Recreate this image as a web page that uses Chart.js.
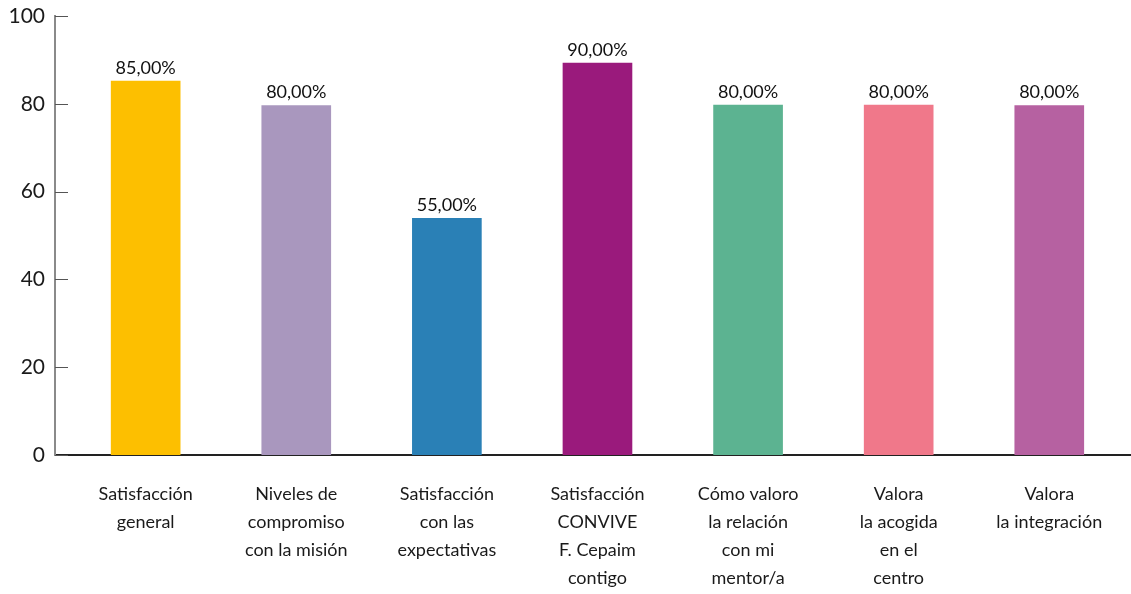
<!DOCTYPE html>
<html>
<head>
<meta charset="utf-8">
<script src="https://cdn.jsdelivr.net/npm/chart.js@4.4.1/dist/chart.umd.min.js"></script>
<style>
html,body{margin:0;padding:0;background:#fff;}
#wrap{width:1131px;height:594px;position:relative;}
</style>
</head>
<body>
<div id="wrap"><canvas id="c" width="1131" height="594"></canvas></div>
<script>
const categories = [
  ["Satisfacción", "general"],
  ["Niveles de", "compromiso", "con la misión"],
  ["Satisfacción", "con las", "expectativas"],
  ["Satisfacción", "CONVIVE", "F. Cepaim", "contigo"],
  ["Cómo valoro", "la relación", "con mi", "mentor/a"],
  ["Valora", "la acogida", "en el", "centro"],
  ["Valora", "la integración"]
];
const values = [85.2, 79.6, 53.9, 89.3, 79.7, 79.7, 79.6];
const valueLabels = ["85,00%", "80,00%", "55,00%", "90,00%", "80,00%", "80,00%", "80,00%"];
const barColors = ["#FDBF00", "#A997BE", "#2A80B6", "#9A1A7C", "#5CB391", "#F0788A", "#B661A1"];
const yTicks = [0, 20, 40, 60, 80, 100];

const FONT = "Lato, 'Open Sans', sans-serif";

const tickMarks = {
  id: 'tickMarks',
  afterDraw(chart) {
    const y = chart.scales.y, ctx = chart.ctx, left = chart.chartArea.left;
    ctx.save();
    ctx.strokeStyle = '#555';
    ctx.lineWidth = 1;
    y.ticks.forEach(t => {
      const py = Math.round(y.getPixelForValue(t.value)) + 0.5;
      ctx.beginPath();
      ctx.moveTo(left, py);
      ctx.lineTo(left + 13, py);
      ctx.stroke();
    });
    ctx.restore();
  }
};

const barLabels = {
  id: 'barLabels',
  afterDatasetsDraw(chart) {
    const ctx = chart.ctx;
    const meta = chart.getDatasetMeta(0);
    ctx.save();
    ctx.font = "18px " + FONT;
    ctx.fillStyle = '#111';
    ctx.textAlign = 'center';
    ctx.textBaseline = 'bottom';
    meta.data.forEach((bar, i) => {
      ctx.fillText(valueLabels[i], bar.x, bar.y - 4);
    });
    ctx.restore();
  }
};

new Chart(document.getElementById('c'), {
  type: 'bar',
  data: {
    datasets: [{
      data: values.map((v, i) => ({x: i, y: v})),
      backgroundColor: barColors,
      borderWidth: 0,
      barThickness: 69
    }]
  },
  options: {
    responsive: false,
    animation: false,
    layout: {padding: {top: 16, right: 1, left: 0, bottom: 0}},
    plugins: {legend: {display: false}, tooltip: {enabled: false}},
    scales: {
      x: {
        type: 'linear',
        offset: false,
        min: -0.602,
        max: 6.536,
        afterBuildTicks: s => { s.ticks = categories.map((_, i) => ({value: i})); },
        afterFit: s => { s.height = 139; s.paddingLeft = 0; s.paddingRight = 0; },
        grid: {display: false, drawTicks: false, offset: false},
        border: {display: true, color: '#222', width: 2},
        ticks: {
          autoSkip: false,
          maxRotation: 0,
          padding: 25,
          color: '#1a1a1a',
          font: {family: FONT, size: 18, lineHeight: 1.56},
          callback: v => categories[v] || ''
        }
      },
      y: {
        min: 0,
        max: 100,
        afterBuildTicks: s => { s.ticks = yTicks.map(v => ({value: v})); },
        afterFit: s => { s.width = 55; s.paddingTop = 0; s.paddingBottom = 0; },
        grid: {display: false, drawTicks: false},
        border: {display: true, color: '#8a8a8a', width: 2},
        ticks: {
          padding: 10,
          color: '#1a1a1a',
          font: {family: FONT, size: 21}
        }
      }
    }
  },
  plugins: [tickMarks, barLabels]
});
</script>
</body>
</html>
